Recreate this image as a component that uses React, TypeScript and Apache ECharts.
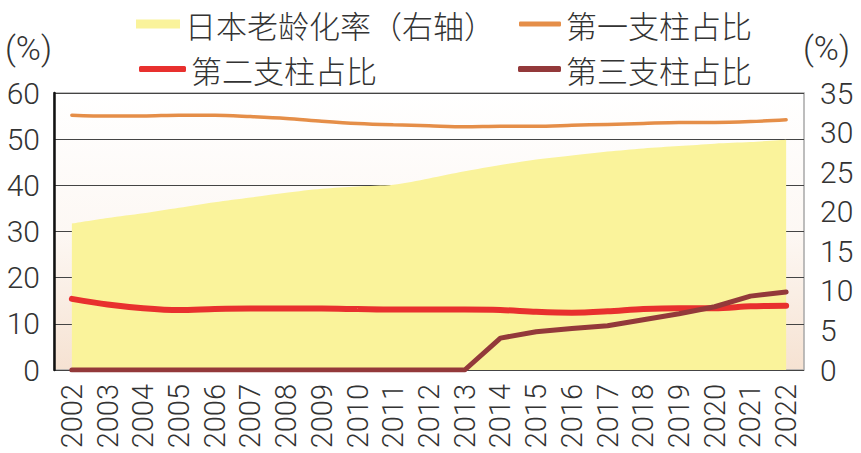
import React, { useEffect, useRef } from 'react';
import * as echarts from 'echarts';

// 年份
const years = [
  '2002', '2003', '2004', '2005', '2006', '2007', '2008', '2009', '2010', '2011', '2012',
  '2013', '2014', '2015', '2016', '2017', '2018', '2019', '2020', '2021', '2022',
];
// 日本老龄化率（右轴，%）
const agingRate = [
  18.5, 19.2, 19.8, 20.5, 21.2, 21.8, 22.4, 22.9, 23.2, 23.4, 24.2,
  25.1, 25.9, 26.6, 27.1, 27.6, 28.0, 28.3, 28.6, 28.8, 29.1,
];
// 第一支柱占比（左轴，%）
const pillar1 = [
  55.2, 55.0, 55.0, 55.2, 55.2, 54.9, 54.5, 53.9, 53.4, 53.1, 52.9,
  52.7, 52.8, 52.8, 53.0, 53.2, 53.4, 53.6, 53.6, 53.8, 54.2,
];
// 第二支柱占比
const pillar2 = [
  15.4, 14.2, 13.4, 13.0, 13.2, 13.3, 13.3, 13.3, 13.2, 13.1, 13.1,
  13.1, 13.0, 12.6, 12.4, 12.7, 13.2, 13.4, 13.4, 13.8, 13.9,
];
// 第三支柱占比
const pillar3 = [
  0, 0, 0, 0, 0, 0, 0, 0, 0, 0, 0,
  0, 6.9, 8.3, 9.0, 9.6, 10.9, 12.2, 13.7, 16.0, 16.9,
];
const leftTicks = { min: 0, max: 60, interval: 10 };
const rightTicks = { min: 0, max: 35, interval: 5 };

const numFont = 'Roboto, "Liberation Sans", sans-serif';
const cjkFont = '"Noto Sans CJK SC", sans-serif';

const App: React.FC = () => {
  const chartRef = useRef<HTMLDivElement>(null);

  useEffect(() => {
    if (!chartRef.current) return;
    const chart = echarts.init(chartRef.current, undefined, { renderer: 'svg' });

    const legendText = { fontFamily: cjkFont, fontSize: 31, lineHeight: 32, fontWeight: 300, color: '#333' };
    const tickText = { fontFamily: numFont, fontWeight: 300, color: '#333' };

    const option = {
      animation: false,
      backgroundColor: '#fff',
      graphic: [
        { type: 'text', left: 5, top: 31, style: { text: '(%)', font: `300 34px ${numFont}`, fill: '#333' } },
        { type: 'text', left: 803, top: 31, style: { text: '(%)', font: `300 34px ${numFont}`, fill: '#333' } },
      ],
      legend: [
        { data: ['日本老龄化率（右轴）'], left: 131, top: 3, icon: 'rect', itemWidth: 44, itemHeight: 9, textStyle: legendText },
        { data: ['第一支柱占比'], left: 514, top: 3, icon: 'roundRect', itemWidth: 42, itemHeight: 5, textStyle: legendText },
        { data: ['第二支柱占比'], left: 134, top: 48, icon: 'roundRect', itemWidth: 47, itemHeight: 6, textStyle: legendText },
        { data: ['第三支柱占比'], left: 513, top: 48, icon: 'roundRect', itemWidth: 43, itemHeight: 6, textStyle: legendText },
      ],
      grid: {
        left: 54,
        right: 57,
        top: 93,
        bottom: 83,
        containLabel: false,
        outerBoundsMode: 'none',
        show: true,
        borderColor: '#a8a8a8',
        borderWidth: 1.5,
        backgroundColor: new echarts.graphic.LinearGradient(0, 0, 0, 1, [
          { offset: 0, color: '#ffffff' },
          { offset: 0.5, color: '#fdf8f4' },
          { offset: 1, color: '#f6e2d2' },
        ]),
      },
      xAxis: {
        type: 'category',
        data: years,
        boundaryGap: true,
        axisLine: { show: false },
        axisTick: { show: false },
        axisLabel: { interval: 0, rotate: 90, margin: 14, fontSize: 29, ...tickText },
      },
      yAxis: [
        {
          type: 'value',
          ...leftTicks,
          axisLine: { show: true, lineStyle: { color: '#111', width: 2.5 } },
          axisTick: { show: false },
          axisLabel: { margin: 14, fontSize: 30, ...tickText },
          splitLine: { show: true, lineStyle: { color: '#444', width: 1 } },
        },
        {
          type: 'value',
          ...rightTicks,
          position: 'right',
          axisLine: { show: false },
          axisTick: { show: false },
          axisLabel: { margin: 16, fontSize: 30, ...tickText },
          splitLine: { show: false },
        },
      ],
      series: [
        {
          name: '日本老龄化率（右轴）',
          type: 'line',
          yAxisIndex: 1,
          data: agingRate,
          smooth: 0.3,
          symbol: 'none',
          itemStyle: { color: '#faf39b' },
          lineStyle: { width: 0 },
          areaStyle: { color: '#faf39b', opacity: 1 },
          z: 1,
        },
        {
          name: '第一支柱占比',
          type: 'line',
          data: pillar1,
          smooth: 0.3,
          symbol: 'none',
          itemStyle: { color: '#e58e48' },
          lineStyle: { color: '#e58e48', width: 3.5, cap: 'round' },
          z: 3,
        },
        {
          name: '第二支柱占比',
          type: 'line',
          data: pillar2,
          smooth: 0.3,
          symbol: 'none',
          itemStyle: { color: '#e8302e' },
          lineStyle: { color: '#e8302e', width: 6, cap: 'round' },
          z: 3,
        },
        {
          name: '第三支柱占比',
          type: 'line',
          data: pillar3,
          symbol: 'none',
          itemStyle: { color: '#93393a' },
          lineStyle: { color: '#93393a', width: 5, cap: 'round', join: 'round' },
          z: 4,
        },
      ],
    };

    chart.setOption(option);

    const handleResize = () => chart.resize();
    window.addEventListener('resize', handleResize);
    return () => {
      window.removeEventListener('resize', handleResize);
      chart.dispose();
    };
  }, []);

  return (
    <div
      ref={chartRef}
      style={{ position: 'fixed', left: 0, top: 0, width: '861px', height: '453px' }}
    ></div>
  );
};

export default App;
